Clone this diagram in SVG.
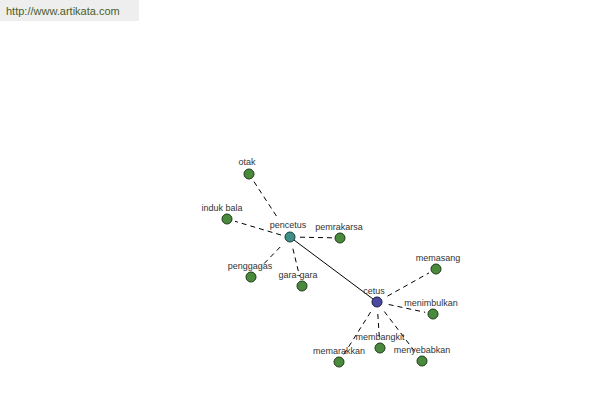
<svg xmlns="http://www.w3.org/2000/svg" width="600" height="400" viewBox="0 0 600 400">
<style>
.lbl{font-family:"Liberation Sans",Arial,sans-serif;font-size:9px;fill:#333;text-anchor:middle}
.leaf{fill:#4a8a3c;stroke:#1e3a1a;stroke-width:1}
.dash{stroke:#000;stroke-width:1;stroke-dasharray:5,4;fill:none}
.solid{stroke:#000;stroke-width:1;fill:none}
</style>
<rect x="0" y="0" width="139" height="21" fill="#eeeeee"/>
<text x="6" y="15" font-family="Liberation Sans,Arial,sans-serif" font-size="11" fill="#4a5e2a">http://www.artikata.com</text>
<g id="connectors">
<line class="solid" x1="290" y1="237" x2="377" y2="302"/>
<line class="dash" x1="276.4" y1="216" x2="253.9" y2="181.5"/>
<line class="dash" x1="281" y1="235" x2="235" y2="221.3"/>
<line class="dash" x1="300" y1="237.2" x2="332" y2="237.8"/>
<line class="dash" x1="280.2" y1="247" x2="260.8" y2="267"/>
<line class="dash" x1="292.9" y1="248.7" x2="299.6" y2="276.3"/>
<line class="dash" x1="387.5" y1="296.1" x2="429" y2="272.9"/>
<line class="dash" x1="388.7" y1="304.5" x2="425.2" y2="312.3"/>
<line class="dash" x1="377.8" y1="314" x2="379.5" y2="340"/>
<line class="dash" x1="370.6" y1="312.1" x2="343.3" y2="355.2"/>
<line class="dash" x1="384.3" y1="311.5" x2="417.2" y2="354.6"/>
</g>
<g id="pencetus"><circle cx="290" cy="237" r="5" fill="#3f8f88" stroke="#1a3a3a"/><text class="lbl" x="288" y="228">pencetus</text></g>
<g id="cetus"><circle cx="377" cy="302" r="5" fill="#4a4aa0" stroke="#1a1a40"/><text class="lbl" x="374" y="294">cetus</text></g>
<g id="otak"><circle class="leaf" cx="249" cy="174" r="5"/><text class="lbl" x="247" y="165">otak</text></g>
<g id="induk-bala"><circle class="leaf" cx="227" cy="219" r="5"/><text class="lbl" x="222" y="211">induk bala</text></g>
<g id="pemrakarsa"><circle class="leaf" cx="340" cy="238" r="5"/><text class="lbl" x="339" y="230">pemrakarsa</text></g>
<g id="penggagas"><circle class="leaf" cx="251" cy="277" r="5"/><text class="lbl" x="250" y="269">penggagas</text></g>
<g id="gara-gara"><circle class="leaf" cx="302" cy="286" r="5"/><text class="lbl" x="298" y="278">gara-gara</text></g>
<g id="memasang"><circle class="leaf" cx="436" cy="269" r="5"/><text class="lbl" x="438" y="261">memasang</text></g>
<g id="menimbulkan"><circle class="leaf" cx="433" cy="314" r="5"/><text class="lbl" x="431" y="306">menimbulkan</text></g>
<g id="membangkit"><circle class="leaf" cx="380" cy="348" r="5"/><text class="lbl" x="380" y="340">membangkit</text></g>
<g id="memarakkan"><circle class="leaf" cx="339" cy="362" r="5"/><text class="lbl" x="339" y="354">memarakkan</text></g>
<g id="menyebabkan"><circle class="leaf" cx="422" cy="361" r="5"/><text class="lbl" x="422" y="353">menyebabkan</text></g>
</svg>
